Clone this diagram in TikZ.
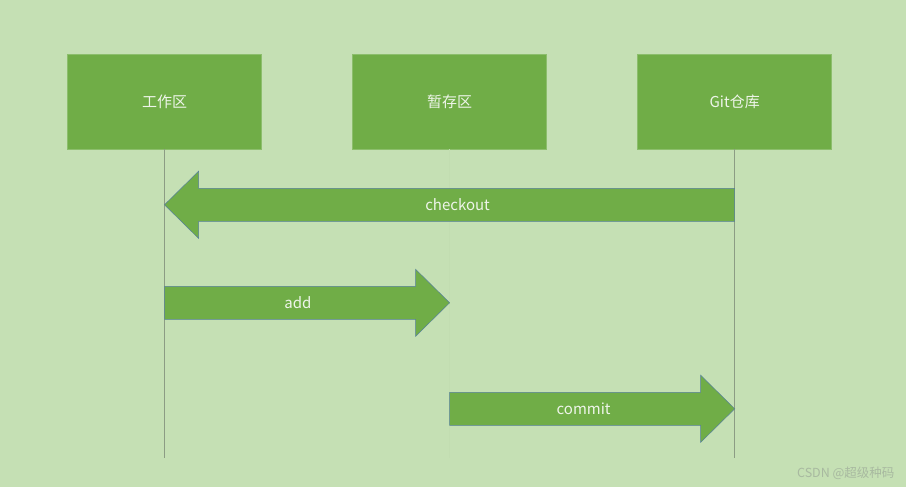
\documentclass[tikz,border=0pt]{standalone}
\usepackage{fontspec}
\setmainfont{Noto Sans CJK SC}
\usepackage{tikz}
\usetikzlibrary{positioning,calc}
\definecolor{bgGreen}{HTML}{C5E0B4}
\definecolor{boxGreen}{HTML}{70AD47}
\definecolor{boxEdge}{HTML}{8CBE6C}
\definecolor{arrowEdge}{HTML}{56809A}
\definecolor{lifeGray}{HTML}{8C9C84}
\definecolor{lifeFaint}{HTML}{C2DDB1}
\definecolor{labelText}{HTML}{EEF5EA}
\definecolor{markGray}{HTML}{A8B9A0}
\tikzstyle{area} = [rectangle, draw=boxEdge, line width=0.6pt, fill=boxGreen,
    minimum width=194pt, minimum height=95pt, text=labelText, font=\fontsize{15}{18}\selectfont]
\tikzstyle{lifeline} = [draw=lifeGray, line width=0.8pt]
\tikzstyle{faintline} = [draw=lifeFaint, line width=0.6pt]
\tikzstyle{bigarrow} = [draw=arrowEdge, fill=boxGreen, line width=0.5pt,
    to path={let \p1=(\tikztostart), \p2=(\tikztotarget), \n1={sign(\x2-\x1)} in
    (\x1,\y1+16.5pt) -- (\x2-\n1*34pt,\y1+16.5pt) -- (\x2-\n1*34pt,\y1+33.5pt) -- (\x2,\y2)
    -- (\x2-\n1*34pt,\y1-33.5pt) -- (\x2-\n1*34pt,\y1-16.5pt) -- (\x1,\y1-16.5pt) -- cycle}]
\tikzstyle{arrowlabel} = [text=labelText, font=\fontsize{15}{18}\selectfont]

\begin{document}
\begin{tikzpicture}[x=1pt, y=-1pt]
			\fill[bgGreen] (0,0) rectangle (906,487);
			\useasboundingbox (0,0) rectangle (906,487);
			%
			\node [area] (work) at (164.5,101.5) {工作区};
			\node [area, right=90.5pt of work] (stage) {暂存区};
			\node [area, right=90.5pt of stage] (repo) {Git仓库};

			% Draw lifelines
			\coordinate (workEnd) at ($(work.south)+(0,309)$);
			\coordinate (stageEnd) at ($(stage.south)+(0,309)$);
			\coordinate (repoEnd) at ($(repo.south)+(0,309)$);
			\path [lifeline] (work.south) -- (workEnd);
			\path [faintline] (stage.south) -- (stageEnd);
			\path [lifeline] (repo.south) -- (repoEnd);

			% Draw arrows
			\coordinate (checkoutFrom) at ($(repo.south)+(0,55.5)$);
			\coordinate (checkoutTo) at ($(work.south)+(0,55.5)$);
			\coordinate (addFrom) at ($(work.south)+(0,153.5)$);
			\coordinate (addTo) at ($(stage.south)+(0,153.5)$);
			\coordinate (commitFrom) at ($(stage.south)+(0,259.5)$);
			\coordinate (commitTo) at ($(repo.south)+(0,259.5)$);
			\path [bigarrow] (checkoutFrom) to (checkoutTo);
			\path [bigarrow] (addFrom) to (addTo);
			\path [bigarrow] (commitFrom) to (commitTo);
			\node [arrowlabel] (checkoutLabel) at ($(checkoutFrom)!0.486!(checkoutTo)$) {checkout};
			\node [arrowlabel] (addLabel) at ($(addFrom)!0.468!(addTo)$) {add};
			\node [arrowlabel] (commitLabel) at ($(commitFrom)!0.47!(commitTo)$) {commit};

			\node [text=markGray, font=\fontsize{12.5}{14}\selectfont, anchor=east] (mark) at (898,473) {CSDN @超级种码};
%
	\end{tikzpicture}
\end{document}
